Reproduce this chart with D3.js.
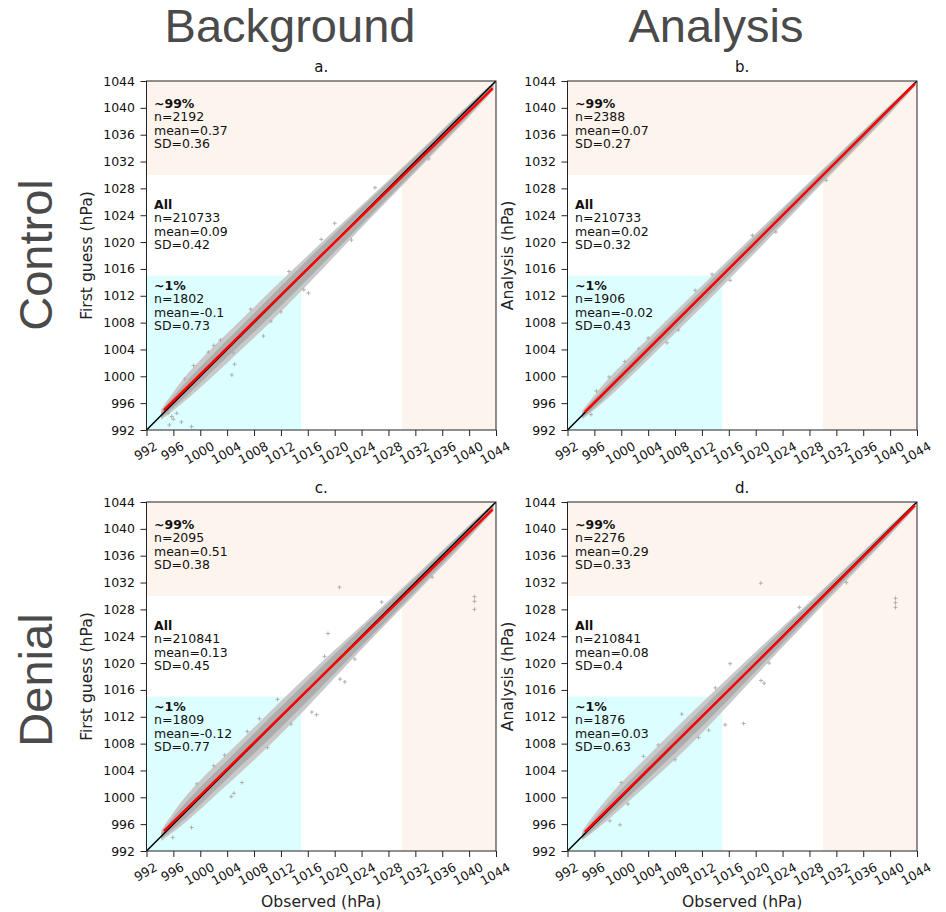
<!DOCTYPE html>
<html>
<head>
<meta charset="utf-8">
<script src="https://cdn.jsdelivr.net/npm/d3@7"></script>
<style>
  body { margin: 0; background: #fff; }
  text { font-family: "DejaVu Sans", sans-serif; }
</style>
</head>
<body>
<div id="chart"></div>
<script>
var chartWidth = 946;
var chartHeight = 912;

// Labels
var columnTitles = ['Background', 'Analysis'];
var rowTitles = ['Control', 'Denial'];
var panelLetters = ['a.', 'b.', 'c.', 'd.'];
var yLabels = ['First guess (hPa)', 'Analysis (hPa)', 'First guess (hPa)', 'Analysis (hPa)'];
var xLabel = 'Observed (hPa)';
var tickValues = [992, 996, 1000, 1004, 1008, 1012, 1016, 1020, 1024, 1028, 1032, 1036, 1040, 1044];
var axisDomain = [992, 1044];
var lowCut = 1015;
var highCut = 1030;

// Stats per panel: [~99%, All, ~1%]
var groupNames = ['~99%', 'All', '~1%'];
var groupN = [
  [2192, 210733, 1802],
  [2388, 210733, 1906],
  [2095, 210841, 1809],
  [2276, 210841, 1876]
];
var groupMean = [
  ['0.37', '0.09', '-0.1'],
  ['0.07', '0.02', '-0.02'],
  ['0.51', '0.13', '-0.12'],
  ['0.29', '0.08', '0.03']
];
var groupSD = [
  ['0.36', '0.42', '0.73'],
  ['0.27', '0.32', '0.43'],
  ['0.38', '0.45', '0.77'],
  ['0.33', '0.4', '0.63']
];

// Point cloud envelope (offsets from the 1:1 line, hPa)
var cloudObs = [994.2, 996, 998, 1000, 1004, 1008, 1012, 1016, 1020, 1024, 1028, 1032, 1036, 1040, 1043.6];
var coreHi = [
  [0.6, 1.0, 1.3, 1.4, 1.4, 1.4, 1.4, 1.4, 1.3, 1.1, 0.9, 0.7, 0.6, 0.4, 0.15],
  [0.4, 0.7, 0.8, 0.9, 0.9, 0.9, 0.9, 0.9, 0.8, 0.8, 0.7, 0.6, 0.5, 0.4, 0.15],
  [0.6, 1.1, 1.4, 1.5, 1.5, 1.5, 1.5, 1.4, 1.3, 1.2, 0.9, 0.7, 0.6, 0.4, 0.15],
  [0.4, 0.8, 1.1, 1.2, 1.2, 1.2, 1.2, 1.2, 1.1, 1.0, 0.8, 0.7, 0.5, 0.4, 0.15]
];
var coreLo = [
  [0.4, 0.7, 0.9, 1.0, 1.1, 1.4, 1.5, 1.5, 1.4, 1.4, 1.3, 1.3, 1.2, 1.1, 0.8],
  [0.4, 0.7, 0.8, 0.8, 0.9, 0.9, 1.0, 1.0, 0.9, 0.9, 0.8, 0.8, 0.7, 0.6, 0.4],
  [0.4, 0.7, 1.0, 1.1, 1.2, 1.5, 1.6, 1.6, 1.5, 1.4, 1.4, 1.3, 1.2, 1.1, 0.8],
  [0.4, 0.7, 0.8, 1.0, 1.2, 1.4, 1.5, 1.4, 1.2, 1.1, 1.0, 0.9, 0.8, 0.7, 0.5]
];
var outerHi = [
  [0.9, 1.7, 2.3, 2.5, 2.4, 2.3, 2.2, 2.0, 1.8, 1.5, 1.2, 0.9, 0.8, 0.6, 0.25],
  [0.7, 1.2, 1.6, 1.7, 1.6, 1.6, 1.5, 1.4, 1.3, 1.1, 1.0, 0.8, 0.6, 0.5, 0.25],
  [0.9, 1.8, 2.4, 2.6, 2.5, 2.4, 2.4, 2.2, 2.0, 1.6, 1.3, 1.0, 0.8, 0.6, 0.25],
  [0.8, 1.5, 2.0, 2.2, 2.2, 2.2, 2.1, 1.9, 1.7, 1.4, 1.1, 0.9, 0.7, 0.5, 0.25]
];
var outerLo = [
  [0.7, 1.1, 1.5, 1.7, 2.0, 2.3, 2.4, 2.3, 2.1, 1.8, 1.7, 1.6, 1.5, 1.4, 1.0],
  [0.6, 1.0, 1.3, 1.4, 1.5, 1.6, 1.7, 1.6, 1.5, 1.4, 1.2, 1.1, 1.0, 0.9, 0.5],
  [0.7, 1.2, 1.6, 1.8, 2.1, 2.5, 2.6, 2.5, 2.2, 1.9, 1.8, 1.7, 1.6, 1.4, 1.0],
  [0.6, 1.0, 1.4, 1.6, 2.0, 2.4, 2.5, 2.2, 1.9, 1.6, 1.4, 1.3, 1.1, 1.0, 0.6]
];

// Isolated points [observed, first guess / analysis]
var outliers = [
  [[995.2, 994.5], [995.75, 994.0], [996.5, 994.5], [995.4, 992.75], [997.2, 993.2], [998.7, 992.5],
   [996.0, 993.6], [997.7, 999.6], [1004.7, 1000.2], [1004.9, 1003.5], [1005.1, 1001.8], [1016.1, 1012.4],
   [1015.4, 1012.9], [1020.0, 1022.8], [1013.2, 1015.6], [1009.4, 1006.0], [1002.0, 1004.6],
   [999.0, 1001.6], [1001.2, 1003.6], [1003.0, 1005.4], [1007.5, 1010.0], [1010.5, 1008.2],
   [1012.0, 1009.6], [1018.0, 1020.4], [1022.5, 1020.3], [1026.0, 1028.1], [1034.0, 1032.4]],
  [[995.5, 994.3], [996.3, 997.8], [998.2, 999.9], [1002.6, 1004.1], [1006.8, 1005.0], [1013.5, 1015.2],
   [1019.5, 1021.0], [1016.2, 1014.3], [1000.5, 1002.2], [1004.0, 1005.7], [1008.5, 1006.9],
   [1011.0, 1012.8], [1023.0, 1021.5], [1030.5, 1029.2]],
  [[998.7, 995.5], [995.9, 994.0], [1004.6, 1000.1], [1005.0, 1000.6], [1006.2, 1002.2], [1003.6, 1006.3],
   [1008.8, 1011.7], [1017.3, 1012.3], [1016.6, 1012.7], [1019.0, 1024.4], [1021.5, 1017.2], [1020.8, 1017.6],
   [1020.7, 1031.3], [1040.8, 1029.9], [1040.8, 1029.2], [1040.8, 1028.0], [1011.5, 1014.6],
   [999.5, 1002.0], [1002.0, 1004.7], [1007.0, 1009.8], [1010.0, 1007.4], [1013.5, 1010.9],
   [1018.5, 1021.0], [1023.0, 1020.6], [1027.0, 1029.1], [1034.5, 1032.8]],
  [[999.8, 995.9], [998.3, 996.5], [1001.0, 999.0], [1003.3, 1006.1], [1015.45, 1010.8], [1018.2, 1011.0],
   [1016.2, 1019.9], [1021.25, 1017.0], [1020.8, 1017.4], [1020.75, 1031.9], [1040.8, 1029.65],
   [1040.8, 1029.0], [1040.8, 1028.3], [1009.0, 1012.4], [1013.0, 1010.0],
   [1000.0, 1002.2], [1005.5, 1007.8], [1008.0, 1005.6], [1011.5, 1008.9], [1014.0, 1016.3],
   [1022.0, 1020.0], [1026.5, 1028.3], [1033.5, 1032.0]]
];

// Red fitted line per panel
var redLines = [
  [[994.6, 994.95], [1019, 1019.0], [1043.5, 1042.9]],
  [[994.6, 994.7], [1019, 1019.0], [1043.7, 1043.6]],
  [[994.6, 994.95], [1019, 1018.95], [1043.5, 1042.9]],
  [[994.6, 994.85], [1019, 1018.95], [1043.7, 1043.5]]
];

// Layout
var panelLeft = [146.5, 567.5];
var panelTop = [81, 502];
var panelW = 349.5;
var panelH = 349;
var statsY = [1040.7, 1025.65, 1013.6];

var svg = d3.select('#chart')
    .append('svg')
    .attr('width', chartWidth)
    .attr('height', chartHeight);

// Column and row titles
svg.selectAll('.coltitle')
    .data(columnTitles)
    .enter()
    .append('text')
    .attr('x', function(d, i) { return [290, 716][i]; })
    .attr('y', 42)
    .attr('text-anchor', 'middle')
    .style('font-family', '"Liberation Sans", Arial, sans-serif')
    .style('font-size', '47px')
    .attr('fill', '#4a4a4a')
    .text(function(d) { return d; });

svg.selectAll('.rowtitle')
    .data(rowTitles)
    .enter()
    .append('text')
    .attr('transform', function(d, i) {
      return 'translate(52,' + [255, 680][i] + ') rotate(-90)';
    })
    .attr('text-anchor', 'middle')
    .style('font-family', '"Liberation Sans", Arial, sans-serif')
    .style('font-size', '47px')
    .attr('fill', '#4a4a4a')
    .text(function(d) { return d; });

panelLetters.forEach(function(letter, i) {
  var col = i % 2;
  var row = Math.floor(i / 2);
  var x0 = panelLeft[col];
  var y0 = panelTop[row];

  var scaleX = d3.scaleLinear().domain(axisDomain).range([x0, x0 + panelW]);
  var scaleY = d3.scaleLinear().domain(axisDomain).range([y0 + panelH, y0]);

  var g = svg.append('g');

  g.append('clipPath')
      .attr('id', 'clip' + i)
      .append('rect')
      .attr('x', x0).attr('y', y0)
      .attr('width', panelW).attr('height', panelH);

  var plot = g.append('g').attr('clip-path', 'url(#clip' + i + ')');

  // Shaded regions
  plot.append('rect')
      .attr('x', scaleX(axisDomain[0]))
      .attr('y', scaleY(axisDomain[1]))
      .attr('width', scaleX(axisDomain[1]) - scaleX(axisDomain[0]))
      .attr('height', scaleY(highCut) - scaleY(axisDomain[1]))
      .attr('fill', '#fef4ee');
  plot.append('rect')
      .attr('x', scaleX(highCut))
      .attr('y', scaleY(highCut))
      .attr('width', scaleX(axisDomain[1]) - scaleX(highCut))
      .attr('height', scaleY(axisDomain[0]) - scaleY(highCut))
      .attr('fill', '#fef4ee');
  plot.append('rect')
      .attr('x', scaleX(axisDomain[0]))
      .attr('y', scaleY(lowCut))
      .attr('width', scaleX(lowCut) - scaleX(axisDomain[0]))
      .attr('height', scaleY(axisDomain[0]) - scaleY(lowCut))
      .attr('fill', '#dcfefe');

  // Point cloud
  var env = cloudObs.map(function(o, k) {
    return {obs: o, ch: coreHi[i][k], cl: coreLo[i][k], oh: outerHi[i][k], ol: outerLo[i][k]};
  });
  var outerArea = d3.area()
      .curve(d3.curveBasis)
      .x(function(d) { return scaleX(d.obs); })
      .y0(function(d) { return scaleY(d.obs - d.ol); })
      .y1(function(d) { return scaleY(d.obs + d.oh); });
  var coreArea = d3.area()
      .curve(d3.curveBasis)
      .x(function(d) { return scaleX(d.obs); })
      .y0(function(d) { return scaleY(d.obs - d.cl); })
      .y1(function(d) { return scaleY(d.obs + d.ch); });
  plot.append('path')
      .datum(env)
      .attr('d', outerArea)
      .attr('fill', '#c9c9c9');
  plot.append('path')
      .datum(env)
      .attr('d', coreArea)
      .attr('fill', '#adadad');

  plot.selectAll('.pt')
      .data(outliers[i])
      .enter()
      .append('path')
      .attr('d', function(d) {
        var cx = scaleX(d[0]), cy = scaleY(d[1]);
        return 'M' + (cx - 2) + ',' + cy + 'H' + (cx + 2) + 'M' + cx + ',' + (cy - 2) + 'V' + (cy + 2);
      })
      .attr('stroke', '#b0b0b0')
      .attr('stroke-width', 1);

  // 1:1 line
  plot.append('line')
      .attr('x1', scaleX(axisDomain[0])).attr('y1', scaleY(axisDomain[0]))
      .attr('x2', scaleX(axisDomain[1])).attr('y2', scaleY(axisDomain[1]))
      .attr('stroke', '#000')
      .attr('stroke-width', 1.5);

  // Red line
  plot.append('path')
      .datum(redLines[i])
      .attr('d', d3.line()
        .x(function(d) { return scaleX(d[0]); })
        .y(function(d) { return scaleY(d[1]); }))
      .attr('fill', 'none')
      .attr('stroke', '#ff0000')
      .attr('stroke-width', 2.5);

  // Spines
  g.append('rect')
      .attr('x', x0).attr('y', y0)
      .attr('width', panelW).attr('height', panelH)
      .attr('fill', 'none')
      .attr('stroke', '#222')
      .attr('stroke-width', 1);

  // Axes
  var axisY = g.append('g')
      .attr('transform', 'translate(' + x0 + ',0)')
      .call(d3.axisLeft(scaleY).tickValues(tickValues).tickSize(6).tickPadding(5.5).tickFormat(d3.format('d')));
  axisY.select('.domain').remove();
  axisY.selectAll('text').attr('font-size', 12.5).attr('font-family', '"DejaVu Sans", sans-serif').attr('fill', '#111');
  axisY.selectAll('line').attr('stroke', '#222');

  var axisX = g.append('g')
      .attr('transform', 'translate(0,' + (y0 + panelH) + ')')
      .call(d3.axisBottom(scaleX).tickValues(tickValues).tickSize(6).tickFormat(d3.format('d')));
  axisX.select('.domain').remove();
  axisX.selectAll('line').attr('stroke', '#222');
  axisX.selectAll('text')
      .attr('font-size', 12.5)
      .attr('font-family', '"DejaVu Sans", sans-serif')
      .attr('fill', '#111')
      .each(function() {
        var t = d3.select(this);
        var w = this.getComputedTextLength();
        var cy = 11 + (w * 0.5 + 9.1 * 0.866) / 2;
        t.attr('x', -1.5)
          .attr('y', cy)
          .attr('dy', '0.36em')
          .attr('text-anchor', 'middle')
          .attr('transform', 'rotate(-30,-1.5,' + cy + ')');
      });

  // Titles and labels
  g.append('text')
      .attr('x', x0 + panelW / 2)
      .attr('y', y0 - 14.3)
      .attr('dy', '0.36em')
      .attr('text-anchor', 'middle')
      .attr('font-size', 15)
      .attr('fill', '#111')
      .text(letter);

  g.append('text')
      .attr('transform', 'translate(' + (x0 - 59.5) + ',' + (y0 + panelH / 2) + ') rotate(-90)')
      .attr('dy', '0.35em')
      .attr('text-anchor', 'middle')
      .attr('font-size', 15.6)
      .attr('fill', '#222')
      .text(yLabels[i]);

  if (row === 1) {
    g.append('text')
        .attr('x', x0 + panelW / 2)
        .attr('y', 907)
        .attr('text-anchor', 'middle')
        .attr('font-size', 15.6)
        .attr('fill', '#222')
        .text(xLabel);
  }

  // Stats text
  groupNames.forEach(function(name, k) {
    var lines = [name, 'n=' + groupN[i][k], 'mean=' + groupMean[i][k], 'SD=' + groupSD[i][k]];
    var cy = scaleY(statsY[k]);
    lines.forEach(function(txt, j) {
      g.append('text')
          .attr('x', x0 + 7.5)
          .attr('y', cy + j * 13.5)
          .attr('dy', '0.36em')
          .attr('font-size', 12.5)
          .attr('font-weight', j === 0 ? 'bold' : 'normal')
          .attr('fill', '#111')
          .text(txt);
    });
  });
});
</script>
</body>
</html>
